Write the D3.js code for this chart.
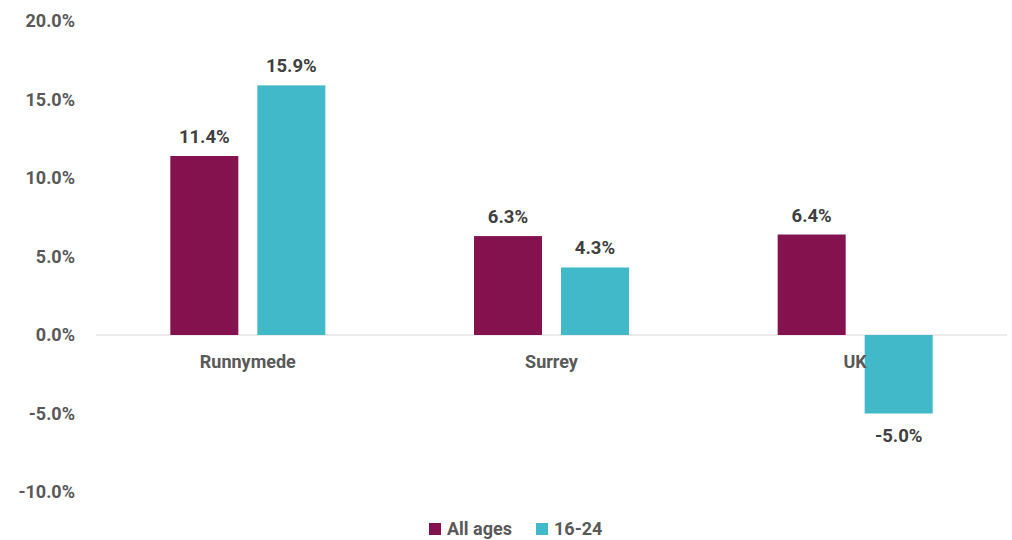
<!DOCTYPE html>
<html><head><meta charset="utf-8">
<script src="https://cdn.jsdelivr.net/npm/d3@7"></script>
<style>body{margin:0;background:#fff}svg{display:block}text{font-family:Roboto,sans-serif;font-weight:700}</style>
</head><body><svg id="c" width="1012" height="540"></svg>
<script>
const categories = ["Runnymede", "Surrey", "UK"];
const seriesNames = ["All ages", "16-24"];
const allAges = [11.4, 6.3, 6.4];
const age1624 = [15.9, 4.3, -5.0];
const yTicks = [-10, -5, 0, 5, 10, 15, 20];
const colors = ["#84124F", "#41B9C9"];

const fmt = d => d3.format(".1f")(d).replace("\u2212", "-") + "%";
const svg = d3.select("#c");
const x = d3.scaleBand().domain(categories).range([96, 1007]).paddingInner(0).paddingOuter(0);
const inner = 155;
const off = (x.bandwidth() - inner) / 2;
const xs = d3.scaleBand().domain(seriesNames).range([off, off + inner]).paddingInner(19 / 87).paddingOuter(0);
const y = d3.scaleLinear().domain([-10, 20]).range([492, 21]);

svg.append("g").selectAll("text").data(yTicks).join("text")
  .attr("x", 75).attr("y", d => y(d)).attr("dy", "0.35em")
  .attr("text-anchor", "end").attr("font-size", 18).attr("fill", "#595959")
  .text(fmt);

svg.append("line").attr("x1", 96).attr("x2", 1007).attr("y1", y(0)).attr("y2", y(0))
  .attr("stroke", "#d9d9d9").attr("stroke-width", 1);

const data = [allAges, age1624];
const g = svg.append("g");
data.forEach((vals, si) => {
  g.selectAll(null).data(vals).join("rect")
    .attr("x", (d, i) => x(categories[i]) + xs(seriesNames[si]))
    .attr("width", xs.bandwidth())
    .attr("y", d => y(Math.max(0, d)))
    .attr("height", d => Math.abs(y(d) - y(0)))
    .attr("fill", colors[si]);
});

svg.append("g").selectAll("text").data(categories).join("text")
  .attr("x", d => x(d) + x.bandwidth() / 2).attr("y", y(0) + 33)
  .attr("text-anchor", "middle").attr("font-size", 18).attr("fill", "#595959")
  .text(d => d);

data.forEach((vals, si) => {
  svg.append("g").selectAll("text").data(vals).join("text")
    .attr("x", (d, i) => x(categories[i]) + xs(seriesNames[si]) + xs.bandwidth() / 2)
    .attr("y", d => d >= 0 ? y(d) - 13 : y(d) + 28)
    .attr("text-anchor", "middle").attr("font-size", 18.5).attr("fill", "#404040")
    .text(fmt);
});

const leg = svg.append("g");
const legX = [429, 536];
seriesNames.forEach((n, i) => {
  leg.append("rect").attr("x", legX[i]).attr("y", 523).attr("width", 12).attr("height", 12).attr("fill", colors[i]);
  leg.append("text").attr("x", legX[i] + 18).attr("y", 529).attr("dy", "0.35em")
    .attr("font-size", 18).attr("fill", "#595959").text(n);
});
</script></body></html>
